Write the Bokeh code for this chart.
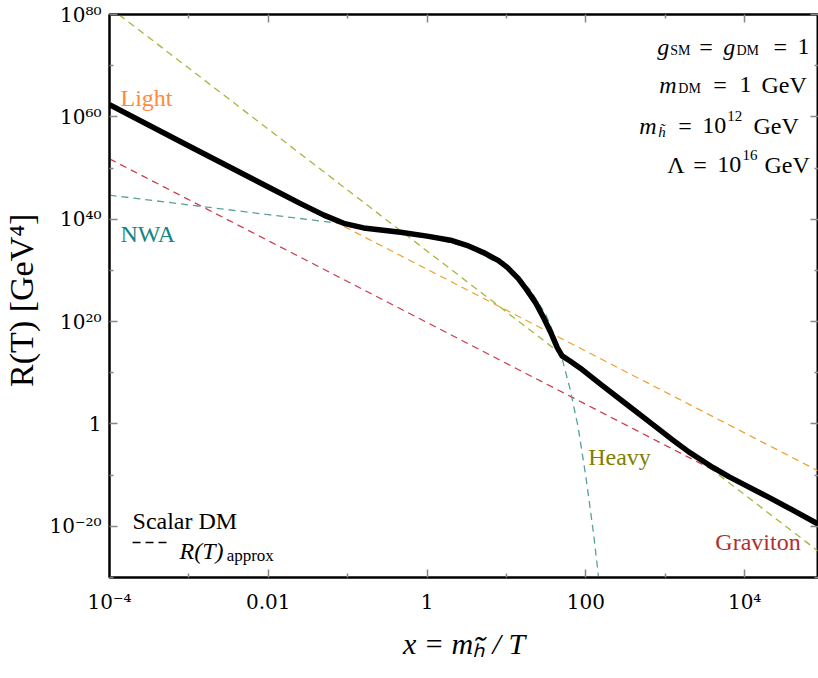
import numpy as np
from bokeh.plotting import figure
from bokeh.models import LogAxis, FixedTicker, Label, Range1d, CustomJSTickFormatter
from bokeh.embed import file_html
from bokeh.resources import INLINE

# ---------------- data (log10 values) ----------------
total_log_x = [-4.0, -3.0, -2.0, -1.6, -1.3, -1.05, -0.8, -0.335, 0.0, 0.295, 0.5, 0.71,
               0.9, 1.01, 1.15, 1.26, 1.37, 1.466, 1.56, 1.64, 1.70, 1.80, 1.93, 2.2,
               2.5, 2.8, 3.1, 3.3, 3.45, 3.6, 3.8, 4.0, 4.3, 4.6, 4.93]
total_log_r = [62.4, 54.3, 46.3, 43.1, 40.8, 39.2, 38.3, 37.45, 36.7, 35.9, 34.9, 33.5,
               31.9, 30.6, 28.4, 26.1, 23.6, 20.8, 17.8, 14.9, 13.3, 12.3, 10.9, 7.6,
               4.0, 0.4, -3.2, -5.5, -7.0, -8.5, -10.3, -11.9, -14.3, -16.8, -19.6]

nwa_log_x = [-4.0, -3.0, -2.0, -1.0, 0.0, 0.5, 1.0, 1.3, 1.5, 1.6, 1.7, 1.8, 1.9, 2.0, 2.1, 2.2]
nwa_log_r = [44.7, 42.8, 40.9, 39.0, 36.6, 34.6, 30.6, 26.2, 21.2, 17.5, 12.8, 6.9, -0.4, -10.3, -21.8, -35.5]

light_log_x = [-4.0, 4.93]
light_log_r = [62.2, -9.2]
heavy_log_x = [-4.0, 4.93]
heavy_log_r = [81.4, -24.9]
graviton_log_x = [-4.0, 4.93]
graviton_log_r = [51.8, -19.6]

x_major = [1e-4, 1e-2, 1.0, 1e2, 1e4]
x_major_labels = ["10\u207b\u2074", "0.01", "1", "100", "10\u2074"]
x_minor = [1e-3, 1e-1, 1e1, 1e3]
y_major = [1e-20, 1.0, 1e20, 1e40, 1e60, 1e80]
y_major_labels = ["10\u207b\u00b2\u2070", "1", "10\u00b2\u2070", "10\u2074\u2070",
                  "10\u2076\u2070", "10\u2078\u2070"]
y_minor = [1e-30, 1e-10, 1e10, 1e30, 1e50, 1e70]

x_label = "x = m\u2095\u0303 / T"
y_label = "R(T)  [GeV\u2074]"

X_MIN, X_MAX = 1e-4, 10 ** 4.93
Y_MIN, Y_MAX = 1e-30, 1e80

# ---------------- styling ----------------
FONT = "Liberation Serif"
TICK_FONT = "DejaVu Serif"
C_LIGHT, C_HEAVY, C_GRAV, C_NWA = "#f0a02c", "#9dbb3a", "#cc3a4a", "#5a9f9c"
T_LIGHT, T_HEAVY, T_GRAV, T_NWA = "#ff8a3d", "#7f7f00", "#b0302e", "#138585"

FL, FR, FT, FB = 109, 817, 14, 577


def px2x(px):
    lo, hi = np.log10(X_MIN), np.log10(X_MAX)
    return 10 ** (lo + (px - FL) / (FR - FL) * (hi - lo))


def py2y(py):
    lo, hi = np.log10(Y_MIN), np.log10(Y_MAX)
    return 10 ** (lo + (FB - py) / (FB - FT) * (hi - lo))


p = figure(width=818, height=678, x_axis_type="log", y_axis_type="log",
           x_range=Range1d(X_MIN, X_MAX), y_range=Range1d(Y_MIN, Y_MAX),
           output_backend="svg", toolbar_location=None,
           min_border_left=FL, min_border_right=0, min_border_top=FT, min_border_bottom=678 - FB)
p.xgrid.visible = False
p.ygrid.visible = False
p.outline_line_color = "black"
p.outline_line_width = 2
p.background_fill_color = "white"
p.border_fill_color = "white"

fmt_code = """
for (let i = 0; i < vals.length; i++) {
  if (Math.abs(Math.log10(vals[i]) - Math.log10(tick)) < 1e-6) return labels[i];
}
return '';
"""
blank = CustomJSTickFormatter(code="return '';")
bottom = p.xaxis[0]
left = p.yaxis[0]
bottom.ticker = FixedTicker(ticks=x_major, minor_ticks=x_minor)
left.ticker = FixedTicker(ticks=y_major, minor_ticks=y_minor)
bottom.formatter = CustomJSTickFormatter(args=dict(vals=x_major, labels=x_major_labels), code=fmt_code)
left.formatter = CustomJSTickFormatter(args=dict(vals=y_major, labels=y_major_labels), code=fmt_code)

top = LogAxis(ticker=FixedTicker(ticks=x_major, minor_ticks=x_minor), formatter=blank)
right = LogAxis(ticker=FixedTicker(ticks=y_major, minor_ticks=y_minor), formatter=blank)
p.add_layout(top, "above")
p.add_layout(right, "right")

for ax in [bottom, left, top, right]:
    ax.axis_line_color = "black"
    ax.axis_line_width = 2
    ax.major_tick_in = 8
    ax.major_tick_out = 0
    ax.minor_tick_in = 4
    ax.minor_tick_out = 0
    ax.major_tick_line_color = "#888888"
    ax.minor_tick_line_color = "#888888"
    ax.major_tick_line_width = 1.5
    ax.minor_tick_line_width = 1.5
    ax.major_label_text_font = TICK_FONT
    ax.major_label_text_font_size = "10px"
    ax.major_label_standoff = 0

for ax in [bottom, left]:
    ax.major_label_text_font_size = "20px"
    ax.major_label_text_color = "black"
bottom.major_label_standoff = 12
left.major_label_standoff = 8

bottom.axis_label = x_label
bottom.axis_label_text_font = FONT
bottom.axis_label_text_font_size = "30px"
bottom.axis_label_text_font_style = "italic"
bottom.axis_label_text_color = "black"
bottom.axis_label_standoff = 10

left.axis_label = y_label
left.axis_label_text_font = FONT
left.axis_label_text_font_size = "34px"
left.axis_label_text_font_style = "normal"
left.axis_label_text_color = "black"
left.axis_label_standoff = 6

# ---------------- curves ----------------
def lin(a):
    return 10 ** np.array(a, dtype=float)

DASH = "7 5"
p.line(lin(light_log_x), lin(light_log_r), line_color=C_LIGHT, line_width=1.3, line_dash=DASH)
p.line(lin(heavy_log_x), lin(heavy_log_r), line_color=C_HEAVY, line_width=1.3, line_dash=DASH)
p.line(lin(graviton_log_x), lin(graviton_log_r), line_color=C_GRAV, line_width=1.3, line_dash=DASH)
p.line(lin(nwa_log_x), lin(nwa_log_r), line_color=C_NWA, line_width=1.3, line_dash=DASH)
p.line(lin(total_log_x), lin(total_log_r), line_color="black", line_width=5.5, line_join="round")

# legend swatch
p.line([px2x(132), px2x(167)], [py2y(542), py2y(542)], line_color="black", line_width=1.3, line_dash="8 5")


def txt(text, px, py, size=24, style="normal", color="black", align="left"):
    p.add_layout(Label(x=px2x(px), y=py2y(py), text=text, text_font=FONT,
                       text_font_size=f"{size}px", text_font_style=style, text_color=color,
                       text_align=align, text_baseline="alphabetic"))


# curve labels
txt("Light", 120, 97, color=T_LIGHT)
txt("NWA", 120, 233, color=T_NWA)
txt("Heavy", 587, 456, color=T_HEAVY)
txt("Graviton", 714, 541, color=T_GRAV)

# parameter block (top right)
txt("g", 656, 46, style="italic"); txt("SM", 669, 50, 14)
txt("=", 698, 46); txt("g", 722, 46, style="italic"); txt("DM", 735, 50, 14)
txt("=", 772, 46); txt("1", 796, 46)

txt("m", 658, 84, style="italic"); txt("DM", 677, 88, 14)
txt("=", 712, 84); txt("1", 738, 84); txt("GeV", 760, 84)

txt("m", 638, 125, style="italic"); txt("h\u0303", 657, 131, 15, style="italic")
txt("=", 677, 125); txt("10", 701, 125); txt("12", 726, 115, 15); txt("GeV", 752, 125)

txt("\u039b", 666, 164); txt("=", 692, 164); txt("10", 716, 164)
txt("16", 741, 154, 15); txt("GeV", 763, 164)

# legend text
txt("Scalar DM", 132, 520)
txt("R(T)", 179, 550, style="italic")
txt("approx", 226, 555, 17)

open("out.html", "w").write(file_html(p, INLINE))
